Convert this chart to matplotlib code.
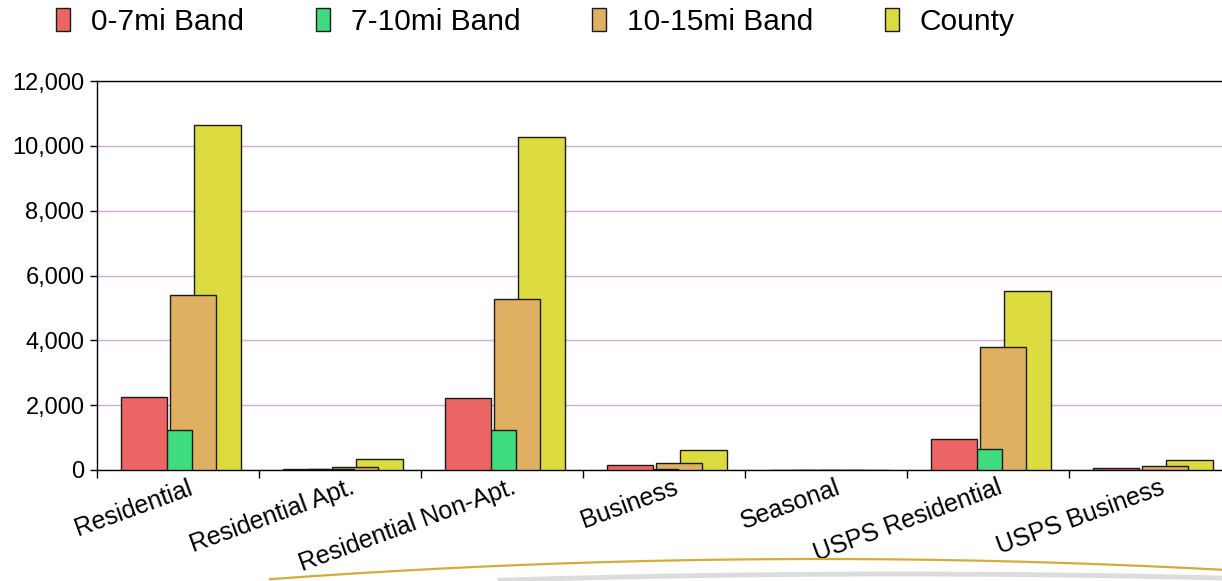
import numpy as np
import matplotlib
matplotlib.use("Agg")
import matplotlib.pyplot as plt
import matplotlib.transforms as mtransforms
from matplotlib.ticker import FuncFormatter, FixedLocator

plt.rcParams['font.family'] = ['Liberation Sans', 'DejaVu Sans']

categories = ["Residential", "Residential Apt.", "Residential Non-Apt.", "Business",
              "Seasonal", "USPS Residential", "USPS Business"]
series_names = ["0-7mi Band", "7-10mi Band", "10-15mi Band", "County"]
band_0_7 = [2250, 20, 2220, 140, 0, 955, 75]
band_7_10 = [1230, 30, 1230, 30, 0, 640, 10]
band_10_15 = [5400, 100, 5275, 215, 0, 3800, 125]
county = [10650, 330, 10270, 605, 0, 5520, 300]
colors = ["#EB6565", "#3EDC7E", "#E0B062", "#DCDC40"]
y_ticks = [0, 2000, 4000, 6000, 8000, 10000, 12000]

W, H = 1222, 581
fig = plt.figure(figsize=(W / 100, H / 100), dpi=100)
ax = fig.add_axes([97 / W, 111 / H, (1231 - 97) / W, 389 / H])

x = np.arange(len(categories)) + 0.5
bar_w = 0.287
step = 0.151
values = [band_0_7, band_7_10, band_10_15, county]
# bars overlap by half; first series sits on top
for i, (name, vals, c) in enumerate(zip(series_names, values, colors)):
    ax.bar(x + 0.017 + (i - 1.5) * step, vals, width=bar_w, color=c,
           edgecolor="#1a1a1a", linewidth=1.0, label=name, zorder=10 - i)

ax.set_xlim(0, len(categories))
ax.set_ylim(0, 12000)
ax.set_yticks(y_ticks)
ax.yaxis.set_major_formatter(FuncFormatter(lambda v, p: f"{int(v):,}"))
ax.grid(axis="y", color="#D4ACDC", linewidth=1.0, zorder=0)
ax.set_axisbelow(True)

ax.xaxis.set_major_locator(FixedLocator(np.arange(len(categories) + 1)))
ax.xaxis.set_major_formatter(FuncFormatter(lambda v, p: ""))
ax.xaxis.set_minor_locator(FixedLocator(x))
ax.set_xticklabels(categories, minor=True, rotation=20, ha="right", va="top",
                   rotation_mode="anchor")
ax.tick_params(axis="x", which="minor", length=0, pad=4, labelsize=18)
ax.tick_params(axis="x", which="major", length=6, width=1, direction="out")
ax.tick_params(axis="y", length=5, width=1, direction="out", labelsize=17, pad=4)
shift = mtransforms.ScaledTranslation(9 / 100, 0, fig.dpi_scale_trans)
for lbl in ax.get_xticklabels(minor=True):
    lbl.set_transform(lbl.get_transform() + shift)

for s in ["left", "bottom", "top"]:
    ax.spines[s].set_color("black")
    ax.spines[s].set_linewidth(1.0)
ax.spines["right"].set_visible(False)

fig.legend(loc="center left", bbox_to_anchor=(56 / W, 1 - 22 / H), ncol=4,
           frameon=False, fontsize=21.5, handlelength=0.47, handleheight=0.77,
           handletextpad=0.7, columnspacing=2.4, borderpad=0, borderaxespad=0)

# decorative swoosh under the chart
xs = np.linspace(270, W, 300)
gold_y = 559 + (xs - 820) ** 2 / 15000
fig.add_artist(plt.Line2D(xs / W, 1 - gold_y / H, color="#D4AC3A", linewidth=1.6,
                          transform=fig.transFigure))
xs2 = np.linspace(500, W, 300)
gray_y = 574 + (xs2 - 900) ** 2 / 26000
fig.add_artist(plt.Line2D(xs2 / W, 1 - gray_y / H, color="#DCDCDC", linewidth=3.5,
                          transform=fig.transFigure))

fig.savefig("out.png", dpi=100)
